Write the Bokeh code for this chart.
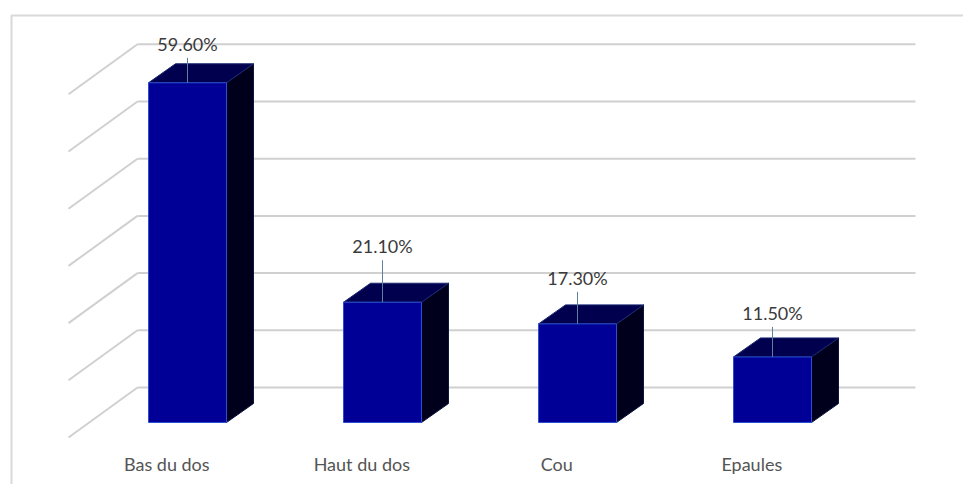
import numpy as np
from bokeh.plotting import figure
from bokeh.models import Range1d
from bokeh.core.properties import value
from bokeh.embed import file_html
from bokeh.resources import INLINE

# ---- data ----
categories = ["Bas du dos", "Haut du dos", "Cou", "Epaules"]
percentages = [59.6, 21.1, 17.3, 11.5]
value_labels = ["59.60%", "21.10%", "17.30%", "11.50%"]
grid_ticks = [0, 10, 20, 30, 40, 50, 60]

# ---- layout / style constants (pixel based, converted to data units) ----
PX_X = 195.0   # pixels per category unit
PX_Y = 5.7     # pixels per percent
W, H = 963, 484
X0_PX, Y0_PX = 187.0, 422.0   # pixel of first bar centre / bar baseline

def ux(px):
    return px / PX_X

def uy(px):
    return px / PX_Y

bar_half = ux(39)
bar_dx, bar_dy = ux(27), uy(19)           # bar depth
back_dx, back_dy = ux(48.3), uy(35)       # bar front plane -> back wall
front_dx, front_dy = ux(-20.7), uy(-15)   # bar front plane -> floor front edge
grid_left = ux(137 - X0_PX)
grid_right = ux(915 - X0_PX)
floor_left = ux(68 - X0_PX)
wall_scale = 5.72 / PX_Y
label_lift_px = [39, 56, 46, 44]

p = figure(width=W, height=H, output_backend="svg", toolbar_location=None,
           x_axis_type=None, y_axis_type=None, min_border=0,
           x_range=Range1d(ux(-X0_PX), ux(W - X0_PX)),
           y_range=Range1d(uy(Y0_PX - H), uy(Y0_PX)))
p.grid.visible = False
p.outline_line_color = None
p.background_fill_color = "white"
p.border_fill_color = "white"

# frame (left and top edges visible)
fx = ux(11 - X0_PX)
fy = uy(Y0_PX - 15)
p.line([fx, fx, ux(W + 20 - X0_PX)], [uy(Y0_PX - H - 20), fy, fy],
       line_color="#d9d9d9", line_width=2)

# gridlines: back wall + side wall diagonals
gx0, gx1, gy0, gy1 = [], [], [], []
for t in grid_ticks:
    yb = back_dy + t * wall_scale
    yf = front_dy - back_dy + yb  # floor front level
    yf = uy(Y0_PX - 437) + t * wall_scale
    gx0 += [floor_left, grid_left]
    gy0 += [yf, yb]
    gx1 += [grid_left, grid_right]
    gy1 += [yb, yb]
p.segment(gx0, gy0, gx1, gy1, line_color="#d0d0d0", line_width=2)

xs = np.arange(len(categories))
front_l = xs - bar_half
front_r = xs + bar_half

# side faces
side_x, side_y, top_x, top_y = [], [], [], []
for l, r, v in zip(front_l, front_r, percentages):
    side_x.append([r, r + bar_dx, r + bar_dx, r])
    side_y.append([0, bar_dy, v + bar_dy, v])
    top_x.append([l, r, r + bar_dx, l + bar_dx])
    top_y.append([v, v, v + bar_dy, v + bar_dy])
p.patches(side_x, side_y, fill_color="#00001c", line_color="#0a1540", line_width=1)
p.patches(top_x, top_y, fill_color="#00004e", line_color="#1a2a70", line_width=1)
p.quad(left=front_l, right=front_r, bottom=0, top=percentages,
       fill_color="#000096", line_color="#2a4fd0", line_width=1)

# value labels with leader lines
lifts = [uy(l) for l in label_lift_px]
lead_top = [v + l - uy(14) for v, l in zip(percentages, lifts)]
p.segment(xs, percentages, xs, lead_top, line_color="#5f7f9f", line_width=1)
p.text(xs, [v + l for v, l in zip(percentages, lifts)], text=value_labels,
       text_align="center", text_baseline="middle", text_color="#3a3a3a",
       text_font=value("Lato"), text_font_size="18px")

# category labels along floor front edge
p.text(xs + front_dx, [uy(Y0_PX - 463)] * len(xs), text=categories,
       text_align="center", text_baseline="middle", text_color="#555555",
       text_font=value("Lato"), text_font_size="18px")

open("out.html", "w").write(file_html(p, INLINE))
